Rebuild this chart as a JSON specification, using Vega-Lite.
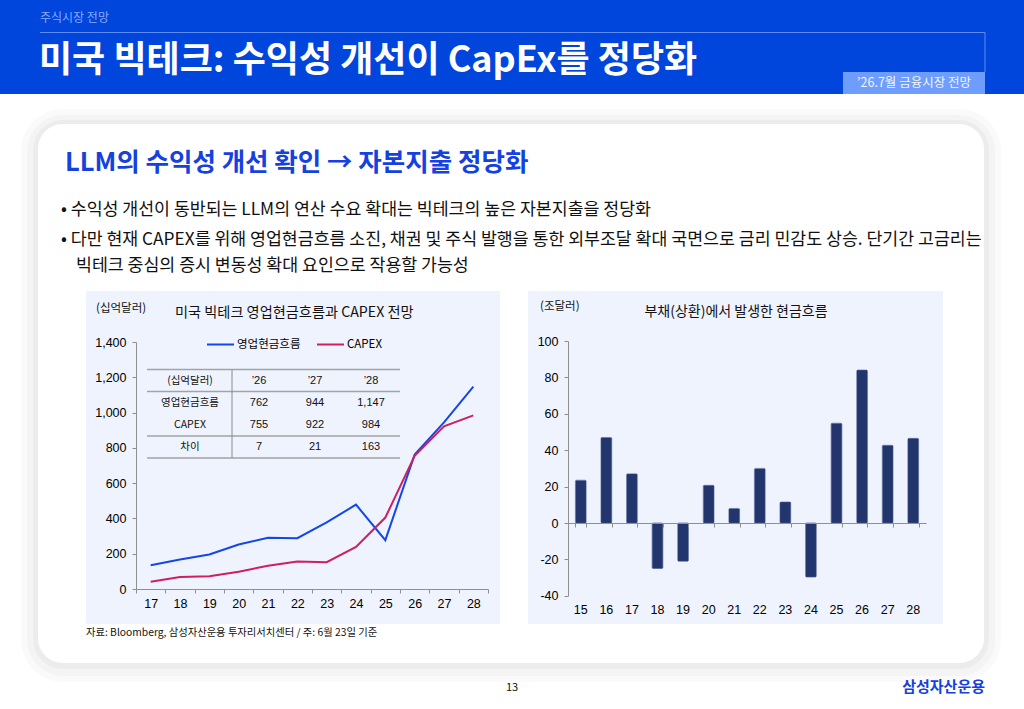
{
  "$schema": "https://vega.github.io/schema/vega-lite/v6.json",
  "width": 1024,
  "height": 709,
  "autosize": {"type": "none"},
  "padding": 0,
  "background": "#ffffff",
  "config": {
    "view": {"stroke": null},
    "font": "Noto Sans CJK KR",
    "text": {"font": "Noto Sans CJK KR", "baseline": "middle", "align": "left", "color": "#111111"}
  },
  "datasets": {
    "one": [{}],
    "flows": [
      {"year": "17", "series": "영업현금흐름", "value": 135},
      {"year": "18", "series": "영업현금흐름", "value": 167},
      {"year": "19", "series": "영업현금흐름", "value": 196},
      {"year": "20", "series": "영업현금흐름", "value": 252},
      {"year": "21", "series": "영업현금흐름", "value": 290},
      {"year": "22", "series": "영업현금흐름", "value": 288},
      {"year": "23", "series": "영업현금흐름", "value": 378},
      {"year": "24", "series": "영업현금흐름", "value": 478},
      {"year": "25", "series": "영업현금흐름", "value": 277},
      {"year": "26", "series": "영업현금흐름", "value": 762},
      {"year": "27", "series": "영업현금흐름", "value": 944},
      {"year": "28", "series": "영업현금흐름", "value": 1147},
      {"year": "17", "series": "CAPEX", "value": 41},
      {"year": "18", "series": "CAPEX", "value": 68},
      {"year": "19", "series": "CAPEX", "value": 72},
      {"year": "20", "series": "CAPEX", "value": 98},
      {"year": "21", "series": "CAPEX", "value": 132},
      {"year": "22", "series": "CAPEX", "value": 156},
      {"year": "23", "series": "CAPEX", "value": 152},
      {"year": "24", "series": "CAPEX", "value": 239},
      {"year": "25", "series": "CAPEX", "value": 405},
      {"year": "26", "series": "CAPEX", "value": 755},
      {"year": "27", "series": "CAPEX", "value": 922},
      {"year": "28", "series": "CAPEX", "value": 984}
    ],
    "summary": [
      {"item": "(십억달러)", "year": "’26", "text": "’26"},
      {"item": "(십억달러)", "year": "’27", "text": "’27"},
      {"item": "(십억달러)", "year": "’28", "text": "’28"},
      {"item": "영업현금흐름", "year": "’26", "text": "762"},
      {"item": "영업현금흐름", "year": "’27", "text": "944"},
      {"item": "영업현금흐름", "year": "’28", "text": "1,147"},
      {"item": "CAPEX", "year": "’26", "text": "755"},
      {"item": "CAPEX", "year": "’27", "text": "922"},
      {"item": "CAPEX", "year": "’28", "text": "984"},
      {"item": "차이", "year": "’26", "text": "7"},
      {"item": "차이", "year": "’27", "text": "21"},
      {"item": "차이", "year": "’28", "text": "163"}
    ],
    "debt": [
      {"year": "15", "value": 23.5},
      {"year": "16", "value": 47},
      {"year": "17", "value": 27},
      {"year": "18", "value": -25},
      {"year": "19", "value": -21},
      {"year": "20", "value": 20.7},
      {"year": "21", "value": 8},
      {"year": "22", "value": 30},
      {"year": "23", "value": 11.5},
      {"year": "24", "value": -29.7},
      {"year": "25", "value": 54.8},
      {"year": "26", "value": 84},
      {"year": "27", "value": 42.7},
      {"year": "28", "value": 46.5}
    ]
  },
  "layer": [
    {"data": {"name": "one"}, "mark": {"type": "rect", "fill": "#0046dc"},
     "encoding": {"x": {"value": 0}, "x2": {"value": 1024}, "y": {"value": 0}, "y2": {"value": 94}}},
    {"data": {"name": "one"}, "mark": {"type": "rule", "stroke": "#5d8cf6", "strokeWidth": 1},
     "encoding": {"x": {"value": 40}, "x2": {"value": 985}, "y": {"value": 32.5}}},
    {"data": {"name": "one"}, "mark": {"type": "rule", "stroke": "#5d8cf6", "strokeWidth": 1},
     "encoding": {"x": {"value": 985}, "y": {"value": 32.5}, "y2": {"value": 72}}},
    {"data": {"name": "one"}, "mark": {"type": "rect", "fill": "#6e9dfd"},
     "encoding": {"x": {"value": 843}, "x2": {"value": 985}, "y": {"value": 72}, "y2": {"value": 94}}},
    {"data": {"name": "one"}, "mark": {"type": "text", "align": "center", "fontSize": 12.5, "fill": "#f2f6ff"},
     "encoding": {"x": {"value": 914}, "y": {"value": 83}, "text": {"value": "’26.7월 금융시장 전망"}}},
    {"data": {"name": "one"}, "mark": {"type": "text", "fontSize": 12, "fill": "#8aabff"},
     "encoding": {"x": {"value": 40}, "y": {"value": 18}, "text": {"value": "주식시장 전망"}}},
    {"data": {"name": "one"}, "mark": {"type": "text", "fontSize": 36, "fontWeight": "bold", "fill": "#ffffff"},
     "encoding": {"x": {"value": 39}, "y": {"value": 61}, "text": {"value": "미국 빅테크: 수익성 개선이 CapEx를 정당화"}}},

    {"data": {"name": "one"}, "mark": {"type": "rect", "fill": null, "stroke": "#000000", "strokeOpacity": 0.02, "strokeWidth": 34, "cornerRadius": 25},
     "encoding": {"x": {"value": 38}, "x2": {"value": 984}, "y": {"value": 126}, "y2": {"value": 665}}},
    {"data": {"name": "one"}, "mark": {"type": "rect", "fill": null, "stroke": "#000000", "strokeOpacity": 0.025, "strokeWidth": 22, "cornerRadius": 25},
     "encoding": {"x": {"value": 38}, "x2": {"value": 984}, "y": {"value": 126}, "y2": {"value": 665}}},
    {"data": {"name": "one"}, "mark": {"type": "rect", "fill": null, "stroke": "#000000", "strokeOpacity": 0.03, "strokeWidth": 10, "cornerRadius": 25},
     "encoding": {"x": {"value": 38}, "x2": {"value": 984}, "y": {"value": 125}, "y2": {"value": 664}}},
    {"data": {"name": "one"}, "mark": {"type": "rect", "fill": "#ffffff", "cornerRadius": 25},
     "encoding": {"x": {"value": 38}, "x2": {"value": 984}, "y": {"value": 124}, "y2": {"value": 663}}},

    {"data": {"name": "one"}, "mark": {"type": "text", "fontSize": 25.5, "fontWeight": "bold", "fill": "#1541e0"},
     "encoding": {"x": {"value": 65}, "y": {"value": 163}, "text": {"value": "LLM의 수익성 개선 확인 → 자본지출 정당화"}}},
    {"data": {"name": "one"}, "mark": {"type": "text", "fontSize": 17.3},
     "encoding": {"x": {"value": 61}, "y": {"value": 210}, "text": {"value": "• 수익성 개선이 동반되는 LLM의 연산 수요 확대는 빅테크의 높은 자본지출을 정당화"}}},
    {"data": {"name": "one"}, "mark": {"type": "text", "fontSize": 17.3},
     "encoding": {"x": {"value": 61}, "y": {"value": 240}, "text": {"value": "• 다만 현재 CAPEX를 위해 영업현금흐름 소진, 채권 및 주식 발행을 통한 외부조달 확대 국면으로 금리 민감도 상승. 단기간 고금리는"}}},
    {"data": {"name": "one"}, "mark": {"type": "text", "fontSize": 17.3},
     "encoding": {"x": {"value": 76}, "y": {"value": 266}, "text": {"value": "빅테크 중심의 증시 변동성 확대 요인으로 작용할 가능성"}}},

    {"data": {"name": "one"}, "mark": {"type": "rect", "fill": "#eef3fe"},
     "encoding": {"x": {"value": 86}, "x2": {"value": 500}, "y": {"value": 291}, "y2": {"value": 624}}},
    {"data": {"name": "one"}, "mark": {"type": "rect", "fill": "#eef3fe"},
     "encoding": {"x": {"value": 528}, "x2": {"value": 943}, "y": {"value": 291}, "y2": {"value": 624}}},

    {"data": {"name": "one"}, "mark": {"type": "text", "fontSize": 11.5},
     "encoding": {"x": {"value": 96}, "y": {"value": 309}, "text": {"value": "(십억달러)"}}},
    {"data": {"name": "one"}, "mark": {"type": "text", "fontSize": 14.2},
     "encoding": {"x": {"value": 175}, "y": {"value": 313}, "text": {"value": "미국 빅테크 영업현금흐름과 CAPEX 전망"}}},

    {"data": {"name": "one"}, "mark": {"type": "rule", "stroke": "#a3a3a3", "strokeWidth": 1.5},
     "encoding": {"x": {"value": 147}, "x2": {"value": 400}, "y": {"value": 369.5}}},
    {"data": {"name": "one"}, "mark": {"type": "rule", "stroke": "#a3a3a3", "strokeWidth": 1.5},
     "encoding": {"x": {"value": 147}, "x2": {"value": 400}, "y": {"value": 391.5}}},
    {"data": {"name": "one"}, "mark": {"type": "rule", "stroke": "#a3a3a3", "strokeWidth": 1.5},
     "encoding": {"x": {"value": 147}, "x2": {"value": 400}, "y": {"value": 436}}},
    {"data": {"name": "one"}, "mark": {"type": "rule", "stroke": "#a3a3a3", "strokeWidth": 1.5},
     "encoding": {"x": {"value": 147}, "x2": {"value": 400}, "y": {"value": 458}}},
    {"data": {"name": "one"}, "mark": {"type": "rule", "stroke": "#8c8c8c", "strokeWidth": 1},
     "encoding": {"x": {"value": 232}, "y": {"value": 369.5}, "y2": {"value": 458}}},

    {"data": {"name": "summary"},
     "transform": [{"filter": "datum.year === '’26'"}],
     "mark": {"type": "text", "align": "center", "fontSize": 10.5},
     "encoding": {
       "x": {"value": 190},
       "y": {"field": "item", "type": "nominal", "axis": null,
             "scale": {"type": "point", "domain": ["(십억달러)", "영업현금흐름", "CAPEX", "차이"], "range": [381, 447], "padding": 0}},
       "text": {"field": "item"}
     }},
    {"data": {"name": "summary"},
     "mark": {"type": "text", "align": "center", "fontSize": 11, "font": "Liberation Sans"},
     "encoding": {
       "x": {"field": "year", "type": "nominal", "axis": null,
             "scale": {"type": "point", "domain": ["’26", "’27", "’28"], "range": [259, 371], "padding": 0}},
       "y": {"field": "item", "type": "nominal", "axis": null,
             "scale": {"type": "point", "domain": ["(십억달러)", "영업현금흐름", "CAPEX", "차이"], "range": [381, 447], "padding": 0}},
       "text": {"field": "text"}
     }},

    {"data": {"name": "flows"},
     "mark": {"type": "line", "strokeWidth": 2},
     "encoding": {
       "x": {"field": "year", "type": "ordinal", "bandPosition": 0.5,
             "scale": {"type": "band", "domain": ["17", "18", "19", "20", "21", "22", "23", "24", "25", "26", "27", "28"], "range": [136, 488], "paddingInner": 0, "paddingOuter": 0},
             "axis": {"orient": "bottom", "offset": -120, "zindex": 1, "tickBand": "extent", "title": null, "labelAngle": 0,
                      "labelFont": "Liberation Sans", "labelFontSize": 12.5, "labelColor": "#000000",
                      "domainColor": "#8f8f8f", "tickColor": "#8f8f8f", "tickSize": 4, "labelPadding": 4, "grid": false}},
       "y": {"field": "value", "type": "quantitative",
             "scale": {"domain": [0, 1400], "range": [589, 342], "nice": false},
             "axis": {"orient": "left", "offset": -136, "zindex": 1, "values": [0, 200, 400, 600, 800, 1000, 1200, 1400], "format": ",d",
                      "title": null, "grid": false, "labelOverlap": false,
                      "labelFont": "Liberation Sans", "labelFontSize": 12.5, "labelColor": "#000000",
                      "domainColor": "#8f8f8f", "tickColor": "#8f8f8f", "tickSize": 4, "labelPadding": 6}},
       "color": {"field": "series", "type": "nominal",
                 "scale": {"domain": ["영업현금흐름", "CAPEX"], "range": ["#1546e6", "#cf1f5e"]},
                 "legend": {"orient": "none", "legendX": 206, "legendY": 330, "direction": "horizontal", "title": null,
                            "symbolType": "stroke", "symbolSize": 729, "symbolStrokeWidth": 2,
                            "labelFont": "Noto Sans CJK KR", "labelFontSize": 11.5, "labelColor": "#000000",
                            "labelOffset": 2, "columnPadding": 12, "padding": 0}}
     }},

    {"data": {"name": "one"}, "mark": {"type": "text", "fontSize": 11.5},
     "encoding": {"x": {"value": 540}, "y": {"value": 307}, "text": {"value": "(조달러)"}}},
    {"data": {"name": "one"}, "mark": {"type": "text", "fontSize": 14, "align": "center"},
     "encoding": {"x": {"value": 736}, "y": {"value": 312}, "text": {"value": "부채(상환)에서 발생한 현금흐름"}}},

    {"data": {"name": "debt"},
     "mark": {"type": "bar", "fill": "#22356d", "stroke": "#3a4d85", "strokeWidth": 0.6, "cornerRadius": 1},
     "encoding": {
       "x": {"field": "year", "type": "ordinal",
             "scale": {"type": "band", "domain": ["15", "16", "17", "18", "19", "20", "21", "22", "23", "24", "25", "26", "27", "28"], "range": [568, 926], "paddingInner": 0.58, "paddingOuter": 0.29},
             "axis": {"orient": "bottom", "offset": -113, "zindex": 1, "title": null, "labelAngle": 0, "domain": false, "ticks": false, "tickSize": 0,
                      "labelFont": "Liberation Sans", "labelFontSize": 12.5, "labelColor": "#000000", "labelPadding": 7, "grid": false}},
       "y": {"field": "value", "type": "quantitative",
             "scale": {"domain": [-40, 100], "range": [595.8, 341], "nice": false, "zero": true},
             "axis": {"orient": "left", "offset": -568, "zindex": 1, "values": [-40, -20, 0, 20, 40, 60, 80, 100],
                      "labelExpr": "replace(datum.label, '−', '-')",
                      "title": null, "grid": false, "labelOverlap": false,
                      "labelFont": "Liberation Sans", "labelFontSize": 12.5, "labelColor": "#000000",
                      "domainColor": "#8f8f8f", "tickColor": "#8f8f8f", "tickSize": 4, "labelPadding": 6}}
     }},
    {"data": {"name": "debt"},
     "mark": {"type": "point", "opacity": 0},
     "encoding": {
       "x": {"field": "year", "type": "ordinal",
             "scale": {"type": "band", "domain": ["15", "16", "17", "18", "19", "20", "21", "22", "23", "24", "25", "26", "27", "28"], "range": [568, 926], "paddingInner": 0.58, "paddingOuter": 0.29},
             "axis": {"orient": "bottom", "offset": -186, "zindex": 1, "title": null, "labels": false, "tickBand": "extent",
                      "domainColor": "#8f8f8f", "tickColor": "#8f8f8f", "tickSize": 4, "grid": false}}
     }},

    {"data": {"name": "one"}, "mark": {"type": "text", "fontSize": 10.3},
     "encoding": {"x": {"value": 86}, "y": {"value": 633}, "text": {"value": "자료: Bloomberg, 삼성자산운용 투자리서치센터 / 주: 6월 23일 기준"}}},
    {"data": {"name": "one"}, "mark": {"type": "text", "fontSize": 11, "align": "center"},
     "encoding": {"x": {"value": 512}, "y": {"value": 688}, "text": {"value": "13"}}},
    {"data": {"name": "one"}, "mark": {"type": "text", "fontSize": 15, "fontWeight": "bold", "align": "right", "fill": "#1740e0"},
     "encoding": {"x": {"value": 985}, "y": {"value": 687}, "text": {"value": "삼성자산운용"}}}
  ],
  "resolve": {
    "scale": {"x": "independent", "y": "independent", "color": "independent"},
    "axis": {"x": "independent", "y": "independent"},
    "legend": {"color": "independent"}
  }
}
